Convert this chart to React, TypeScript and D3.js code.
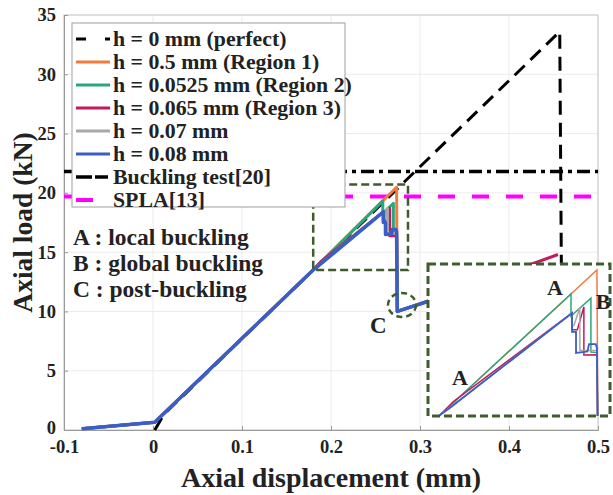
import React, { useEffect, useRef } from "react";
import * as d3 from "d3";

// axis ticks
const xTicks = [-0.1, 0, 0.1, 0.2, 0.3, 0.4, 0.5];
const yTicks = [0, 5, 10, 15, 20, 25, 30, 35];

// load-displacement curves [displacement (mm), load (kN)]
const perfect: [number, number][] = [[0.002, 0], [0.012, 1.3], [0.457, 33.6], [0.459, 12]];
const region1: [number, number][] = [
  [-0.08, 0.1], [0.002, 0.65], [0.18, 13.5], [0.2582, 19.32], [0.2737, 20.47],
  [0.2745, 10.0], [0.311, 10.9], [0.4, 13.3],
];
const region2: [number, number][] = [
  [-0.08, 0.1], [0.002, 0.65], [0.18, 13.5], [0.2582, 19.32], [0.2582, 18.26],
  [0.2701, 19.12], [0.2701, 16.53], [0.2737, 16.5], [0.2745, 10.0], [0.311, 10.9], [0.41, 13.5],
];
const region3: [number, number][] = [
  [-0.08, 0.1], [0.002, 0.65], [0.18, 13.5], [0.188, 14.15], [0.2588, 18.4], [0.2588, 17.6],
  [0.262, 17.6], [0.2659, 18.7], [0.2659, 16.38], [0.2737, 16.4], [0.2745, 10.0],
  [0.311, 10.9], [0.455, 14.8],
];
const h007: [number, number][] = [
  [-0.08, 0.1], [0.002, 0.65], [0.18, 13.5], [0.2588, 18.4], [0.2588, 17.8],
  [0.26, 17.8], [0.2635, 18.69], [0.2635, 16.6], [0.2737, 16.6], [0.2745, 10.0],
  [0.311, 10.9], [0.39, 13.0],
];
const h008: [number, number][] = [
  [-0.08, 0.1], [0.002, 0.65], [0.18, 13.5], [0.186, 13.85], [0.2588, 18.4], [0.2588, 17.5],
  [0.2612, 17.5], [0.2612, 16.48], [0.268, 16.55], [0.269, 16.91], [0.273, 16.91],
  [0.2737, 16.7], [0.2745, 10.0], [0.311, 10.9], [0.4, 13.3],
];

const curves = [region1, region2, region3, h007, h008];
const curveColors = ["#f47a3c", "#2aa87c", "#c21a5c", "#a8a8a8", "#3a5ec8"];

const bucklingTest = 21.8;
const spla = 19.7;

const legendNames = [
  "h = 0 mm (perfect)",
  "h = 0.5 mm (Region 1)",
  "h = 0.0525 mm (Region 2)",
  "h = 0.065 mm (Region 3)",
  "h = 0.07 mm",
  "h = 0.08 mm",
  "Buckling test[20]",
  "SPLA[13]",
];
const notes = ["A : local buckling", "B : global buckling", "C : post-buckling"];

// zoomed region [x0, x1, y0, y1] and inset view
const zoomBox = [0.18, 0.2865, 13.5, 20.7];
const insetDomainX = [0.1728, 0.2815];
const insetDomainY = [13.45, 20.76];
const cPoint = [0.2798, 10.54];

const FONT = "Liberation Serif, Tinos, Times New Roman, Times, serif";

export default function App() {
  const ref = useRef<SVGSVGElement>(null);

  useEffect(() => {
    const svg = d3.select(ref.current);
    svg.selectAll("*").remove();

    const width = 613;
    const height = 495;
    const margin = { top: 15, right: 15, bottom: 65, left: 64 };

    const x = d3.scaleLinear().domain([-0.1, 0.5]).range([margin.left, width - margin.right]);
    const y = d3.scaleLinear().domain([0, 35]).range([height - margin.bottom, margin.top]);

    const ix = d3.scaleLinear().domain(insetDomainX).range([428, 610]);
    const iy = d3.scaleLinear().domain(insetDomainY).range([416, 264]);

    // grid
    const grid = svg.append("g").attr("stroke", "#ebebeb").attr("stroke-width", 1);
    xTicks.forEach(t => grid.append("line").attr("x1", x(t)).attr("x2", x(t)).attr("y1", y(0)).attr("y2", y(35)));
    yTicks.forEach(t => grid.append("line").attr("x1", x(-0.1)).attr("x2", x(0.5)).attr("y1", y(t)).attr("y2", y(t)));

    // box
    svg.append("rect")
      .attr("x", x(-0.1)).attr("y", y(35))
      .attr("width", x(0.5) - x(-0.1)).attr("height", y(0) - y(35))
      .attr("fill", "none").attr("stroke", "#c8c8c8").attr("stroke-width", 1);

    // axes
    const ax = svg.append("g").attr("transform", `translate(0,${y(0)})`)
      .call(d3.axisBottom(x).tickValues(xTicks).tickSize(-4).tickPadding(10)
        .tickFormat(d => String(+d)));
    const ay = svg.append("g").attr("transform", `translate(${x(-0.1)},0)`)
      .call(d3.axisLeft(y).tickValues(yTicks).tickSize(-4).tickPadding(8));
    [ax, ay].forEach(g => {
      g.attr("font-family", null).attr("font-size", null);
      g.select(".domain").attr("stroke", "#9a9a9a");
      g.selectAll(".tick line").attr("stroke", "#9a9a9a");
      g.selectAll("text").style("font-family", FONT).style("font-weight", "bold")
        .style("font-size", "18.5px").attr("fill", "#222");
    });
    // lift the "0" on the load axis a touch so it clears "-0.1"
    ay.selectAll(".tick text").filter((d: any) => d === 0).attr("dy", "0.2em");

    const line = d3.line<[number, number]>().x(d => x(d[0])).y(d => y(d[1]));

    // reference lines
    svg.append("line")
      .attr("x1", x(-0.1)).attr("x2", x(0.5)).attr("y1", y(bucklingTest)).attr("y2", y(bucklingTest))
      .attr("stroke", "#000").attr("stroke-width", 3.5).attr("stroke-dasharray", "13,5,4,5");
    svg.append("line")
      .attr("x1", x(-0.1)).attr("x2", x(0.5)).attr("y1", y(spla)).attr("y2", y(spla))
      .attr("stroke", "#ff00ff").attr("stroke-width", 4).attr("stroke-dasharray", "17,17");

    // perfect curve
    svg.append("path").attr("d", line(perfect)).attr("fill", "none")
      .attr("stroke", "#000").attr("stroke-width", 3).attr("stroke-dasharray", "14,8");

    curves.forEach((c, i) => {
      svg.append("path").attr("d", line(c)).attr("fill", "none")
        .attr("stroke", curveColors[i]).attr("stroke-width", i === 4 ? 3.5 : 3)
        .attr("stroke-linejoin", "round");
    });

    const txt = (sel: any, size: number) =>
      sel.style("font-family", FONT).style("font-weight", "bold")
        .style("font-size", `${size}px`).attr("fill", "#222");

    // zoom box in main plot
    svg.append("rect")
      .attr("x", x(zoomBox[0])).attr("y", y(zoomBox[3]))
      .attr("width", x(zoomBox[1]) - x(zoomBox[0])).attr("height", y(zoomBox[2]) - y(zoomBox[3]))
      .attr("fill", "none").attr("stroke", "#3f5d2c").attr("stroke-width", 2.5)
      .attr("stroke-dasharray", "8,4");

    // circle around C
    svg.append("ellipse").attr("cx", x(cPoint[0])).attr("cy", y(cPoint[1]))
      .attr("rx", 14).attr("ry", 12).attr("fill", "none")
      .attr("stroke", "#3f5d2c").attr("stroke-width", 2.5).attr("stroke-dasharray", "6,4");
    txt(svg.append("text").attr("x", x(cPoint[0]) - 32).attr("y", y(cPoint[1]) + 28), 23).text("C");

    // inset
    svg.append("defs").append("clipPath").attr("id", "insetClip")
      .append("rect").attr("x", 428).attr("y", 264).attr("width", 182).attr("height", 152);
    svg.append("rect").attr("x", 428).attr("y", 264).attr("width", 182).attr("height", 152)
      .attr("fill", "#fff");
    const iline = d3.line<[number, number]>().x(d => ix(d[0])).y(d => iy(d[1]));
    const ig = svg.append("g").attr("clip-path", "url(#insetClip)");
    curves.forEach((c, i) => {
      ig.append("path").attr("d", iline(c)).attr("fill", "none")
        .attr("stroke", curveColors[i]).attr("stroke-width", i === 4 ? 1.8 : 1.5);
    });
    svg.append("rect").attr("x", 428).attr("y", 264).attr("width", 182).attr("height", 152)
      .attr("fill", "none").attr("stroke", "#3f5d2c").attr("stroke-width", 3)
      .attr("stroke-dasharray", "8,4");
    const insetLabels: [string, number, number][] = [["A", 460, 385], ["A", 555, 295], ["B", 603, 309]];
    insetLabels.forEach(([t, lx, ly]) => {
      txt(svg.append("text").attr("x", lx).attr("y", ly).attr("text-anchor", "middle"), 22).text(t);
    });

    // legend
    const lg = svg.append("g");
    lg.append("rect").attr("x", 72).attr("y", 23).attr("width", 273).attr("height", 184)
      .attr("fill", "#fff").attr("stroke", "#a0a0a0").attr("stroke-width", 1);
    const legendColors = ["#000", ...curveColors, "#000", "#ff00ff"];
    legendNames.forEach((name, i) => {
      const ly = 39 + i * 23;
      const l = lg.append("line").attr("x1", 76).attr("x2", i === 7 ? 93 : 110)
        .attr("y1", ly).attr("y2", ly).attr("stroke", legendColors[i]).attr("stroke-width", 3);
      if (i === 0) l.attr("stroke-dasharray", "10,19");
      if (i === 6) l.attr("stroke-dasharray", "16,3,13,4").attr("stroke-width", 3.5);
      if (i === 7) l.attr("stroke-width", 4);
      txt(lg.append("text").attr("x", 113).attr("y", ly + 7), 21.8).text(name);
    });

    notes.forEach((n, i) => {
      txt(svg.append("text").attr("x", 73).attr("y", 245 + i * 26), 23.5).text(n);
    });

    // axis titles
    txt(svg.append("text").attr("x", (x(-0.1) + x(0.5)) / 2).attr("y", 487)
      .attr("text-anchor", "middle"), 28).text("Axial displacement (mm)");
    txt(svg.append("text")
      .attr("transform", `translate(32,${(y(0) + y(35)) / 2}) rotate(-90)`)
      .attr("text-anchor", "middle"), 27.5).text("Axial load (kN)");
  }, []);

  return (
    <svg ref={ref} width={613} height={495}
      style={{ position: "absolute", left: 0, top: 0, background: "#fff" }} />
  );
}
